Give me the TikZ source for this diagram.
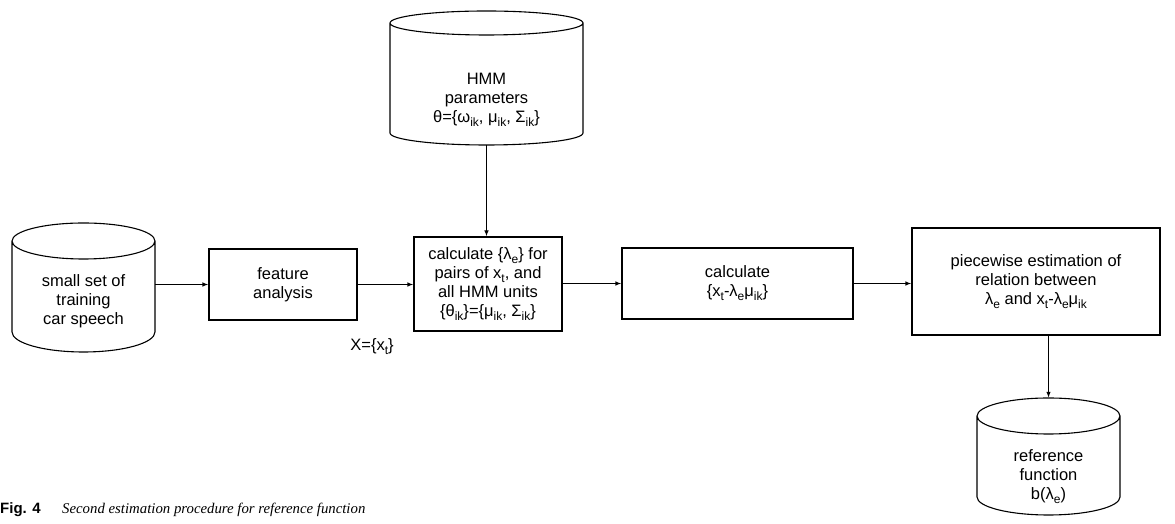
\documentclass[tikz,border=0pt]{standalone}
\usepackage{fontspec}
\setmainfont{Liberation Sans}
\newfontfamily\capserif{Liberation Serif}
\usetikzlibrary{arrows.meta,calc}
\newcommand\sbs[1]{\raisebox{-0.45ex}{\fontsize{12}{12}\selectfont #1}}
% cx, rx, Y of top ellipse centre, Y of side bottom, ry top, ry bottom
\newcommand\cylshape[6]{%
  \draw[ln] ({#1-#2},#3) -- ({#1-#2},#4)
    arc[start angle=180,end angle=360,x radius=#2,y radius=#6]
    -- ({#1+#2},#3)
    arc[start angle=0,end angle=180,x radius=#2,y radius=#5]
    arc[start angle=180,end angle=360,x radius=#2,y radius=#5];}
\begin{document}
\begin{tikzpicture}[x=1pt,y=1pt,
  ln/.style={line width=1.1pt,black},
  box/.style={draw,line width=1.1pt,rectangle,inner sep=0pt,align=center,
    font=\fontsize{16.5}{19}\selectfont},
  area/.style={rectangle,inner sep=0pt},
  txt/.style={inner sep=0pt,align=center,font=\fontsize{16.5}{19}\selectfont},
  arr/.style={ln,-{Latex[length=6pt,width=4.5pt]}}]
\useasboundingbox (0,0) rectangle (1175,524);

% cylinders (outline areas as named nodes)
\node[area,minimum width=143,minimum height=129] (cylL) at (83.5,236.5) {};
\cylshape{83.5}{71.5}{283}{192}{18}{20}
\node[txt] (cylLt) at (83.5,223) {small set of\\training\\car speech};

\node[area,minimum width=193,minimum height=134] (hmm) at (486.5,446) {};
\cylshape{486.5}{96.5}{501}{391}{12}{12}
\node[txt] (hmmt) at (486.5,424) {HMM\\parameters\\θ=\{ω\sbs{ik}, μ\sbs{ik}, Σ\sbs{ik}\}};

\node[area,minimum width=143,minimum height=117] (ref) at (1048.5,67.5) {};
\cylshape{1048.5}{71.5}{108}{27}{18}{18}
\node[txt] (reft) at (1048.5,47) {reference\\function\\b(λ\sbs{e})};

% boxes
\node[box,minimum width=148,minimum height=94] (calc) at (488,240)
  {calculate \{λ\sbs{e}\} for\\pairs of x\sbs{t}, and\\all HMM units\\\{θ\sbs{ik}\}=\{μ\sbs{ik}, Σ\sbs{ik}\}};
\node[box,minimum width=148,minimum height=71] (feat) at (283,239.5) {feature\\analysis};
\node[box,minimum width=231,minimum height=71] (calc2) at (737.5,240.5)
  {calculate\\\{x\sbs{t}-λ\sbs{e}μ\sbs{ik}\}};
\node[box,minimum width=248,minimum height=107] (pw) at (1036,242.5)
  {piecewise estimation of\\relation between\\λ\sbs{e} and x\sbs{t}-λ\sbs{e}μ\sbs{ik}};

% label
\node[txt] (xlab) at (372,177) {X=\{x\sbs{t}\}};

% connectors
\draw[arr] (cylL.east |- feat.west) -- (feat.west);
\draw[arr] (feat.east) -- (feat.east -| calc.west);
\draw[arr] (hmm.south) -- (hmm.south |- calc.north);
\draw[arr] (calc.east |- calc2.west) -- (calc2.west);
\draw[arr] (calc2.east) -- (calc2.east -| pw.west);
\draw[arr] (ref.north |- pw.south) -- (ref.north);

% caption
\node[anchor=base west,inner sep=0pt,font=\fontsize{15}{15}\selectfont\bfseries] (figno) at (0,10) {Fig. 4};
\node[anchor=base west,inner sep=0pt,font=\fontsize{14.8}{15}\selectfont\capserif\itshape] (cap) at (62,10)
  {Second estimation procedure for reference function};
\end{tikzpicture}
\end{document}
